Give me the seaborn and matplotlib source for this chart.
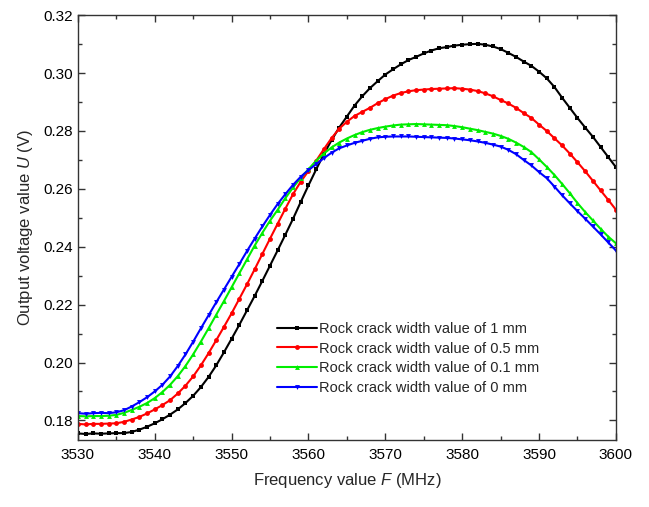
import numpy as np
import pandas as pd
import matplotlib
matplotlib.use("Agg")
import matplotlib.pyplot as plt
from matplotlib.ticker import MultipleLocator, FormatStrFormatter
import seaborn as sns

freq = list(range(3530, 3601))

u_1mm = [0.1755, 0.1753, 0.1755, 0.1754, 0.1755, 0.1756, 0.1756, 0.1760, 0.1768, 0.1778,
         0.1790, 0.1804, 0.1820, 0.1838, 0.1860, 0.1885, 0.1915, 0.1950, 0.1990, 0.2035,
         0.2082, 0.2130, 0.2180, 0.2230, 0.2282, 0.2335, 0.2388, 0.2442, 0.2497, 0.2555,
         0.2612, 0.2667, 0.2720, 0.2768, 0.2812, 0.2850, 0.2888, 0.2920, 0.2948, 0.2972,
         0.2995, 0.3013, 0.3030, 0.3045, 0.3056, 0.3068, 0.3078, 0.3086, 0.3090, 0.3095,
         0.3098, 0.3100, 0.3101, 0.3098, 0.3092, 0.3083, 0.3070, 0.3056, 0.3040, 0.3025,
         0.3005, 0.2982, 0.2952, 0.2915, 0.2880, 0.2845, 0.2812, 0.2780, 0.2745, 0.2710,
         0.2675]

u_05mm = [0.1788, 0.1786, 0.1788, 0.1788, 0.1789, 0.1790, 0.1795, 0.1803, 0.1812, 0.1824,
          0.1838, 0.1853, 0.1870, 0.1893, 0.1920, 0.1952, 0.1990, 0.2032, 0.2077, 0.2123,
          0.2170, 0.2220, 0.2270, 0.2322, 0.2375, 0.2428, 0.2480, 0.2532, 0.2582, 0.2625,
          0.2662, 0.2697, 0.2737, 0.2775, 0.2808, 0.2832, 0.2852, 0.2866, 0.2880, 0.2896,
          0.2910, 0.2922, 0.2931, 0.2937, 0.2941, 0.2943, 0.2945, 0.2946, 0.2947, 0.2948,
          0.2946, 0.2943, 0.2938, 0.2930, 0.2920, 0.2907, 0.2895, 0.2880, 0.2862, 0.2845,
          0.2822, 0.2800, 0.2775, 0.2750, 0.2722, 0.2692, 0.2661, 0.2628, 0.2595, 0.2562,
          0.2528]

u_01mm = [0.1815, 0.1814, 0.1815, 0.1815, 0.1816, 0.1819, 0.1826, 0.1836, 0.1847, 0.1860,
          0.1877, 0.1898, 0.1923, 0.1953, 0.1988, 0.2028, 0.2072, 0.2118, 0.2165, 0.2212,
          0.2260, 0.2308, 0.2356, 0.2404, 0.2448, 0.2490, 0.2528, 0.2568, 0.2605, 0.2638,
          0.2668, 0.2697, 0.2722, 0.2743, 0.2760, 0.2774, 0.2786, 0.2796, 0.2804, 0.2810,
          0.2815, 0.2819, 0.2822, 0.2823, 0.2824, 0.2823, 0.2822, 0.2821, 0.2820, 0.2817,
          0.2813, 0.2808, 0.2803, 0.2797, 0.2791, 0.2783, 0.2773, 0.2760, 0.2745, 0.2727,
          0.2702, 0.2676, 0.2648, 0.2617, 0.2585, 0.2551, 0.2520, 0.2491, 0.2462, 0.2435,
          0.2412]

u_0mm = [0.1825, 0.1823, 0.1825, 0.1826, 0.1825, 0.1828, 0.1835, 0.1848, 0.1863, 0.1880,
         0.1900, 0.1923, 0.1952, 0.1988, 0.2028, 0.2072, 0.2118, 0.2163, 0.2208, 0.2252,
         0.2296, 0.2340, 0.2385, 0.2428, 0.2470, 0.2510, 0.2548, 0.2582, 0.2614, 0.2642,
         0.2665, 0.2685, 0.2706, 0.2725, 0.2740, 0.2750, 0.2759, 0.2766, 0.2773, 0.2778,
         0.2780, 0.2781, 0.2781, 0.2781, 0.2780, 0.2779, 0.2778, 0.2777, 0.2776, 0.2774,
         0.2771, 0.2768, 0.2764, 0.2759, 0.2753, 0.2746, 0.2735, 0.2720, 0.2700, 0.2681,
         0.2658, 0.2637, 0.2608, 0.2578, 0.2550, 0.2523, 0.2497, 0.2470, 0.2443, 0.2415,
         0.2387]

labels = ["Rock crack width value of 1 mm",
          "Rock crack width value of 0.5 mm",
          "Rock crack width value of 0.1 mm",
          "Rock crack width value of 0 mm"]
series = [u_1mm, u_05mm, u_01mm, u_0mm]
colors = ["#000000", "#ff0000", "#00ee00", "#0000ff"]
markers = ["s", "o", "^", "v"]

sns.set_theme(style="ticks")
plt.rcParams["font.family"] = ["Liberation Sans", "DejaVu Sans"]
plt.rcParams["mathtext.fontset"] = "custom"
plt.rcParams["mathtext.it"] = "Liberation Sans:italic"
plt.rcParams["mathtext.rm"] = "Liberation Sans"

frames = []
for lab, vals in zip(labels, series):
    frames.append(pd.DataFrame({"F": freq, "U": vals, "series": lab}))
df = pd.concat(frames, ignore_index=True)

fig = plt.figure(figsize=(6.49, 5.07), dpi=100)
ax = fig.add_axes([0.120, 0.132, 0.829, 0.838])

sns.lineplot(data=df, x="F", y="U", hue="series", style="series",
             palette=dict(zip(labels, colors)),
             markers=dict(zip(labels, markers)),
             dashes=False, markersize=3.5, markeredgewidth=0,
             linewidth=1.5, ax=ax, legend=True)

ax.set_xlim(3530, 3600)
ax.set_ylim(0.1732, 0.32)
ax.xaxis.set_major_locator(MultipleLocator(10))
ax.xaxis.set_minor_locator(MultipleLocator(5))
ax.yaxis.set_major_locator(MultipleLocator(0.02))
ax.yaxis.set_minor_locator(MultipleLocator(0.01))
ax.yaxis.set_major_formatter(FormatStrFormatter("%.2f"))

for s in ax.spines.values():
    s.set_visible(True)
    s.set_color("#333333")
    s.set_linewidth(1.0)

ax.tick_params(which="both", direction="in", top=True, right=True,
               labelsize=11, colors="#333333", labelcolor="black")
ax.tick_params(which="major", length=5, width=1)
ax.tick_params(which="minor", length=3, width=1)
ax.tick_params(axis="x", pad=6)

ax.set_xlabel(r"Frequency value $\mathit{F}$ (MHz)", fontsize=12, labelpad=6)
ax.set_ylabel(r"Output voltage value $\mathit{U}$ (V)", fontsize=12, labelpad=6)

leg = ax.legend(loc="upper left", bbox_to_anchor=(0.359, 0.292), frameon=False,
                fontsize=10.5, handlelength=2.75, labelspacing=0.39,
                borderaxespad=0, handletextpad=0.15, markerscale=1.0)
for line in leg.get_lines():
    line.set_linewidth(1.5)

fig.savefig("out.png", dpi=100)
